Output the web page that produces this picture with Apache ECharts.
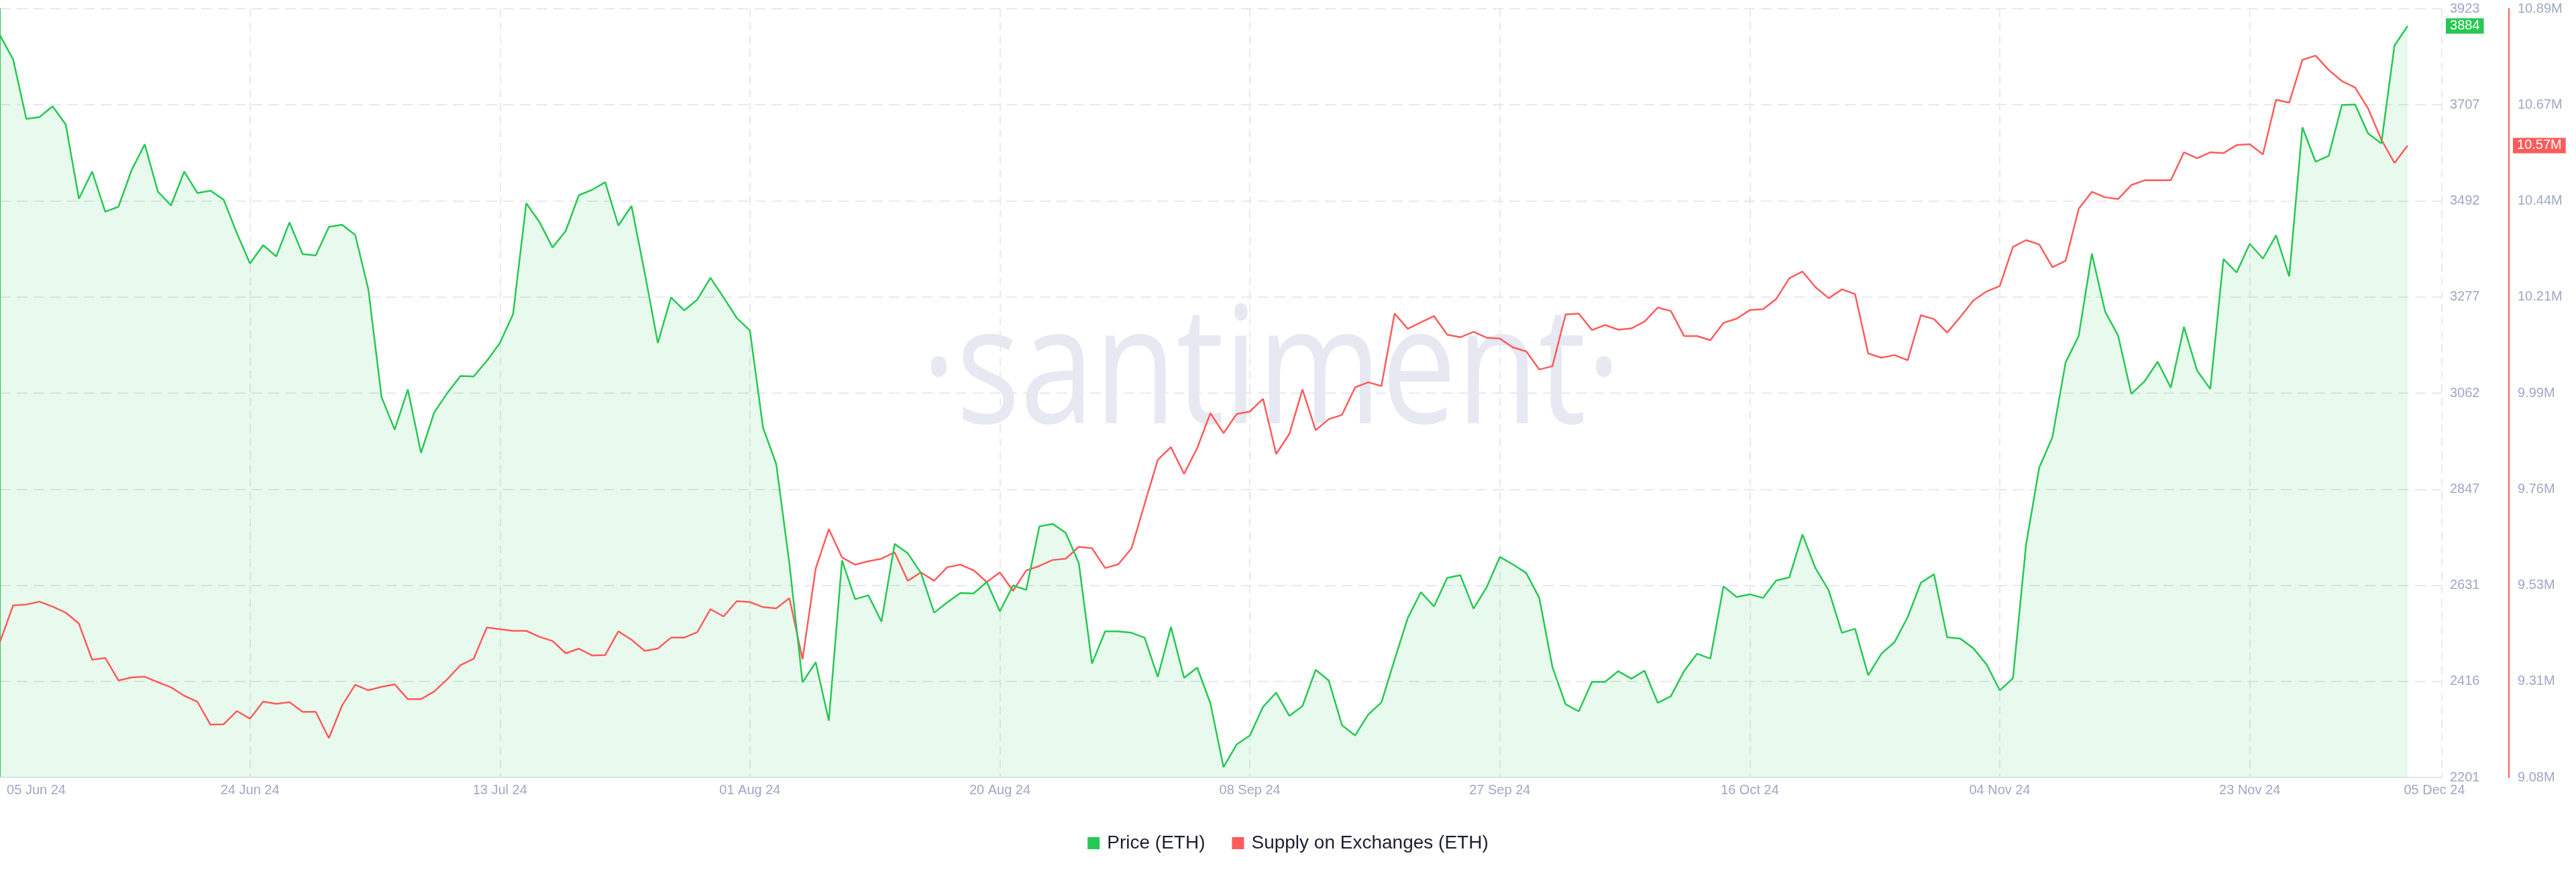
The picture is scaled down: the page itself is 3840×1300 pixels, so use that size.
<!DOCTYPE html>
<html>
<head>
<meta charset="utf-8">
<script src="https://cdn.jsdelivr.net/npm/echarts@6/dist/echarts.min.js"></script>
<style>
html,body{margin:0;padding:0;background:#fff;}
#chart{width:3840px;height:1300px;}
</style>
</head>
<body>
<div id="chart"></div>
<script>
// ---- data (daily, 05 Jun 2024 .. 05 Dec 2024) ----
const firstDay = '2024-06-05';
const dayCount = 184;

const priceETH = [
3863,3809,3676,3680,3704,3663,3497,3558,3468,3479,
3561,3619,3513,3482,3558,3510,3515,3495,3420,3352,
3393,3368,3444,3373,3370,3434,3439,3416,3294,3053,
2980,3070,2928,3018,3062,3100,3099,3134,3174,3239,
3487,3445,3388,3425,3505,3517,3534,3437,3481,3332,
3174,3276,3247,3271,3320,3276,3230,3202,2984,2903,
2680,2414,2459,2328,2687,2600,2609,2550,2724,2703,
2659,2570,2593,2614,2613,2639,2573,2631,2621,2763,
2769,2749,2681,2456,2528,2528,2525,2514,2426,2538,
2424,2447,2367,2224,2275,2295,2359,2391,2339,2361,
2442,2418,2318,2295,2342,2369,2465,2558,2616,2584,
2648,2654,2579,2627,2695,2678,2659,2603,2448,2365,
2349,2415,2415,2439,2422,2440,2368,2383,2439,2478,
2467,2629,2605,2611,2603,2642,2649,2745,2669,2620,
2525,2534,2430,2478,2504,2560,2637,2656,2515,2512,
2490,2454,2396,2423,2723,2895,2963,3130,3190,3374,
3245,3190,3060,3088,3132,3074,3210,3112,3071,3362,
3332,3396,3363,3415,3323,3657,3580,3593,3707,3708,
3643,3621,3840,3884
];

const supplyM = [
9.400,9.486,9.488,9.495,9.483,9.469,9.443,9.358,9.362,9.309,
9.316,9.318,9.305,9.293,9.273,9.259,9.205,9.206,9.237,9.219,
9.259,9.254,9.258,9.235,9.235,9.173,9.250,9.299,9.286,9.294,
9.300,9.265,9.265,9.283,9.312,9.345,9.360,9.434,9.430,9.426,
9.426,9.412,9.402,9.373,9.384,9.368,9.369,9.425,9.405,9.379,
9.384,9.410,9.410,9.423,9.477,9.460,9.496,9.494,9.482,9.479,
9.503,9.359,9.573,9.666,9.599,9.582,9.590,9.596,9.611,9.544,
9.564,9.544,9.576,9.582,9.569,9.541,9.564,9.520,9.568,9.579,
9.593,9.596,9.624,9.621,9.574,9.583,9.620,9.725,9.829,9.859,
9.796,9.857,9.939,9.892,9.937,9.943,9.973,9.843,9.890,9.995,
9.899,9.925,9.935,10.000,10.012,10.003,10.174,10.138,10.153,10.168,
10.124,10.118,10.131,10.117,10.115,10.094,10.085,10.042,10.050,10.172,
10.174,10.135,10.147,10.136,10.139,10.155,10.188,10.180,10.121,10.121,
10.111,10.152,10.162,10.182,10.184,10.208,10.257,10.273,10.236,10.210,
10.231,10.220,10.080,10.070,10.076,10.064,10.170,10.161,10.129,10.166,
10.205,10.226,10.239,10.331,10.347,10.337,10.283,10.298,10.421,10.461,
10.448,10.444,10.477,10.488,10.488,10.488,10.554,10.540,10.554,10.552,
10.571,10.573,10.549,10.678,10.671,10.772,10.782,10.748,10.722,10.707,
10.657,10.584,10.529,10.570
];

const labelDates = ['2024-06-05','2024-06-24','2024-07-13','2024-08-01','2024-08-20',
                    '2024-09-08','2024-09-27','2024-10-16','2024-11-04','2024-11-23','2024-12-05'];
const labelTexts = ['05 Jun 24','24 Jun 24','13 Jul 24','01 Aug 24','20 Aug 24',
                    '08 Sep 24','27 Sep 24','16 Oct 24','04 Nov 24','23 Nov 24','05 Dec 24'];

const seriesNames = ['Price (ETH)', 'Supply on Exchanges (ETH)'];
const priceAxis = {min: 2201, max: 3922.6, interval: 215.2};
const supplyAxis = {min: 9.0805, max: 10.8925, interval: 0.2265};
const dayAxis = {min: 0, max: 185.6, interval: 19};   // day number since firstDay

// ---- build ----
const DAY = 86400000;
const t0 = Date.parse(firstDay + 'T00:00:00Z');
const dayOf = s => Math.round((Date.parse(s + 'T00:00:00Z') - t0) / DAY);
const labelDays = labelDates.map(dayOf);
const labelMap = {};
labelDays.forEach((d, i) => { labelMap[d] = labelTexts[i]; });

const GREEN = '#26c853';
const RED = '#ff5b5b';
const AXIS_TXT = '#9ea8c4';
const GRID = '#e7e9f2';
const FONT = '"Liberation Sans", Arial, sans-serif';

const chart = echarts.init(document.getElementById('chart'), null, {renderer: 'canvas'});

const labelRich = {
  first: {padding: [0, 0, 0, 108], color: AXIS_TXT, fontSize: 20, fontFamily: FONT},
  last:  {padding: [0, 0, 0, 80],  color: AXIS_TXT, fontSize: 20, fontFamily: FONT},
  mid:   {color: AXIS_TXT, fontSize: 20, fontFamily: FONT}
};

chart.setOption({
  animation: false,
  backgroundColor: '#ffffff',
  textStyle: {fontFamily: FONT},
  graphic: [{
    type: 'text',
    x: 1895, y: 562,
    scaleX: 0.82,
    z: -10,
    silent: true,
    style: {
      text: '·santiment·',
      fontSize: 243,
      fontFamily: '"Open Sans", sans-serif',
      fill: '#e6e8f2',
      align: 'center',
      verticalAlign: 'middle'
    }
  }],
  grid: {left: 0, right: 200, top: 13, bottom: 141, containLabel: false},
  legend: {
    data: seriesNames,
    top: 1238,
    left: 'center',
    icon: 'rect',
    itemWidth: 18,
    itemHeight: 18,
    itemGap: 40,
    textStyle: {fontSize: 28, color: '#1c1f30', fontFamily: FONT, padding: [0, 0, 0, 6]}
  },
  xAxis: {
    type: 'value',
    min: dayAxis.min,
    max: dayAxis.max,
    interval: dayAxis.interval,
    axisLine: {show: true, onZero: false, lineStyle: {color: '#e4e7f1', width: 2}},
    axisTick: {show: false},
    axisLabel: {
      customValues: labelDays,
      hideOverlap: false,
      margin: 9,
      color: AXIS_TXT,
      fontSize: 20,
      formatter: function (v) {
        const txt = labelMap[Math.round(v)] || '';
        if (Math.round(v) === labelDays[0]) return '{first|' + txt + '}';
        if (Math.round(v) === labelDays[labelDays.length - 1]) return '{last|' + txt + '}';
        return '{mid|' + txt + '}';
      },
      rich: labelRich
    },
    splitLine: {show: true, lineStyle: {color: GRID, width: 2, type: [12, 8]}}
  },
  yAxis: [{
    type: 'value',
    position: 'right',
    offset: 0,
    min: priceAxis.min, max: priceAxis.max, interval: priceAxis.interval,
    axisLine: {show: true, lineStyle: {color: GREEN, width: 2}},
    axisTick: {show: false},
    axisLabel: {color: AXIS_TXT, fontSize: 20, margin: 12, formatter: v => String(Math.round(v))},
    splitLine: {show: true, lineStyle: {color: GRID, width: 2, type: [16, 9]}}
  }, {
    type: 'value',
    position: 'right',
    offset: 100,
    min: supplyAxis.min, max: supplyAxis.max, interval: supplyAxis.interval,
    axisLine: {show: true, lineStyle: {color: RED, width: 2}},
    axisTick: {show: false},
    axisLabel: {color: AXIS_TXT, fontSize: 20, margin: 13, formatter: v => v.toFixed(2) + 'M'},
    splitLine: {show: false}
  }],
  series: [{
    name: seriesNames[1],
    type: 'line',
    yAxisIndex: 1,
    data: supplyM.map((v, i) => [i, v]),
    showSymbol: false,
    symbol: 'none',
    lineStyle: {color: RED, width: 2.5},
    itemStyle: {color: RED},
    endLabel: {
      show: true,
      distance: 157,
      formatter: p => p.value[1].toFixed(2) + 'M',
      color: '#ffffff',
      backgroundColor: RED,
      fontSize: 20,
      fontFamily: FONT,
      padding: [2, 6, 1, 6]
    }
  }, {
    name: seriesNames[0],
    type: 'line',
    yAxisIndex: 0,
    data: priceETH.map((v, i) => [i, v]),
    showSymbol: false,
    symbol: 'none',
    lineStyle: {color: GREEN, width: 2.5},
    itemStyle: {color: GREEN},
    areaStyle: {color: 'rgba(38,200,83,0.15)', origin: 'start'},
    endLabel: {
      show: true,
      distance: 57,
      formatter: p => String(Math.round(p.value[1])),
      color: '#ffffff',
      backgroundColor: GREEN,
      fontSize: 20,
      fontFamily: FONT,
      padding: [2, 6, 1, 6]
    }
  }]
});
</script>
</body>
</html>
